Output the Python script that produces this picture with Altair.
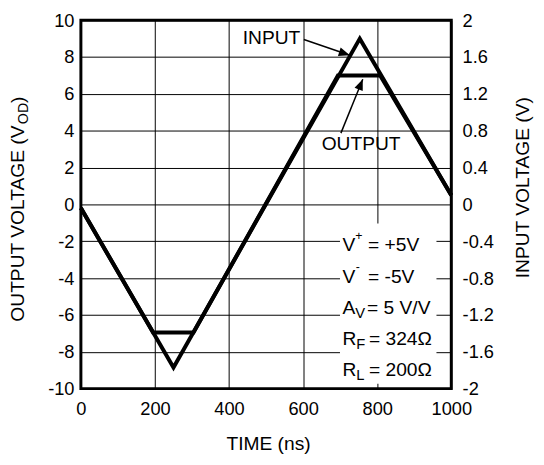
import altair as alt
import pandas as pd

# ---------------- data ----------------
time_in = [0, 250, 753, 1000]
input_v = [-0.04, -1.77, 1.80, 0.10]          # right axis (V)

time_out = [0, 195, 304, 694, 808, 1000]
output_v = [-0.2, -6.95, -6.95, 7.0, 7.0, 0.5]  # left axis (V_OD)

x_ticks = [0, 200, 400, 600, 800, 1000]
y_left_ticks = [-10, -8, -6, -4, -2, 0, 2, 4, 6, 8, 10]
y_right_ticks = [-2, -1.6, -1.2, -0.8, -0.4, 0, 0.4, 0.8, 1.2, 1.6, 2]

# annotation geometry (data units: ns, V_OD)
box_t, box_t2 = [699.5], [960]
box_v, box_v2 = [-1.04], [-9.73]
arrow_t = [602, 702]
arrow_v = [8.95, 3.87]
arrow_t2 = [726, 761]
arrow_v2 = [8.1, 6.8]

FONT = "Liberation Sans"
FS = 18.5     # tick labels
BFS = 19.5    # annotation / title text
W, H = 376, 374

xs = alt.Scale(domain=[0, 1000], nice=False, zero=False)
ysl = alt.Scale(domain=[-10, 10], nice=False, zero=False)
ysr = alt.Scale(domain=[-2, 2], nice=False, zero=False)

common_axis = dict(grid=True, ticks=False, domain=False, title=None, labelFlush=False,
                   labelFont=FONT, labelFontSize=FS, labelColor="black",
                   gridColor="black", gridWidth=1, gridOpacity=1,
                   labelExpr="'' + datum.value")

X = alt.X("t:Q", scale=xs, axis=alt.Axis(values=x_ticks, labelPadding=11, **common_axis))
X2 = alt.X2("t2:Q")
Y = alt.Y("v:Q", scale=ysl, axis=alt.Axis(values=y_left_ticks, orient="left", labelPadding=7, **common_axis))
Y2 = alt.Y2("v2:Q")
YR = alt.Y("vin:Q", scale=ysr, axis=alt.Axis(values=y_right_ticks, orient="right", grid=False, ticks=False,
                                               domain=False, title=None, labelFont=FONT, labelFontSize=FS,
                                               labelColor="black", labelPadding=11, labelFlush=False,
                                               labelExpr="'' + datum.value"))

df_in = pd.DataFrame({"t": time_in, "vin": input_v})
df_out = pd.DataFrame({"t": time_out, "v": output_v})

box = alt.Chart(pd.DataFrame({"t": box_t, "t2": box_t2, "v": box_v, "v2": box_v2})).mark_rect(
    fill="white").encode(x=X, x2=X2, y=Y, y2=Y2)

out_line = alt.Chart(df_out).mark_line(color="black", strokeWidth=4, strokeJoin="miter").encode(x=X, y=Y)
in_line = alt.Chart(df_in).mark_line(color="black", strokeWidth=4, strokeJoin="miter").encode(x=X, y=YR)


def dtxt(t, v, s, size=BFS, dx=0, dy=0, align="left"):
    return alt.Chart(pd.DataFrame({"t": [t], "v": [v]})).mark_text(
        text=s, font=FONT, fontSize=size, color="black", align=align,
        baseline="alphabetic", dx=dx, dy=dy).encode(x=X, y=Y)


def ptxt(xp, yp, s, size=BFS, angle=0, align="left"):
    return alt.Chart(pd.DataFrame({"a": [0]})).mark_text(
        text=s, font=FONT, fontSize=size, color="black", align=align,
        baseline="alphabetic", angle=angle).encode(x=alt.value(xp), y=alt.value(yp))


TX = 706
rows = [-2.53, -4.25, -5.95, -7.65, -9.3]
texts = [
    dtxt(TX, rows[0], "V"), dtxt(TX, rows[0], "+", size=12.5, dx=13, dy=-11.5), dtxt(TX, rows[0], "= +5V", dx=26),
    dtxt(TX, rows[1], "V"), dtxt(TX, rows[1], "-", size=12.5, dx=13.5, dy=-11.5), dtxt(TX, rows[1], "= -5V", dx=26),
    dtxt(TX, rows[2], "A"), dtxt(TX, rows[2], "V", size=15, dx=13, dy=4), dtxt(TX, rows[2], "= 5 V/V", dx=25),
    dtxt(TX, rows[3], "R"), dtxt(TX, rows[3], "F", size=15, dx=14, dy=4), dtxt(TX, rows[3], "= 324Ω", dx=27),
    dtxt(TX, rows[4], "R"), dtxt(TX, rows[4], "L", size=15, dx=14, dy=4), dtxt(TX, rows[4], "= 200Ω", dx=27),
    dtxt(514.6, 8.7, "INPUT", align="center"),
    dtxt(756.6, 2.95, "OUTPUT", align="center"),
]

df_arrows = pd.DataFrame({"t": arrow_t, "v": arrow_v, "t2": arrow_t2, "v2": arrow_v2})
arrow_lines = alt.Chart(df_arrows).mark_rule(color="black", strokeWidth=1.5).encode(x=X, y=Y, x2=X2, y2=Y2)

HEAD = "M0,0L0.4,1L-0.4,1Z"
head1 = alt.Chart(pd.DataFrame({"t": [arrow_t2[0]], "v": [arrow_v2[0]]})).mark_point(
    shape=HEAD, filled=True, size=500, angle=108, color="black", opacity=1, strokeWidth=0).encode(x=X, y=Y)
head2 = alt.Chart(pd.DataFrame({"t": [arrow_t2[1]], "v": [arrow_v2[1]]})).mark_point(
    shape=HEAD, filled=True, size=500, angle=22, color="black", opacity=1, strokeWidth=0).encode(x=X, y=Y)

# axis titles (pixel positions relative to plot area)
titles = [
    ptxt(-58, 306, "OUTPUT VOLTAGE (V", angle=270),
    ptxt(-54, 105.5, "OD", size=14.5, angle=270),
    ptxt(-58, 84, ")", angle=270),
    ptxt(455, 170, "INPUT VOLTAGE (V)", angle=270, align="center"),
    ptxt(190.5, 436, "TIME (ns)", align="center"),
]

left = alt.layer(box, out_line, arrow_lines, head1, head2, *texts, *titles)
chart = alt.layer(left, in_line).resolve_scale(y="independent").properties(
    width=W, height=H,
    padding={"left": 74, "top": 9, "right": 86, "bottom": 66},
    autosize=alt.AutoSizeParams(type="none"),
).configure_view(stroke="black", strokeWidth=3)

chart.save("out.html", embed_options={"renderer": "svg", "actions": False})
